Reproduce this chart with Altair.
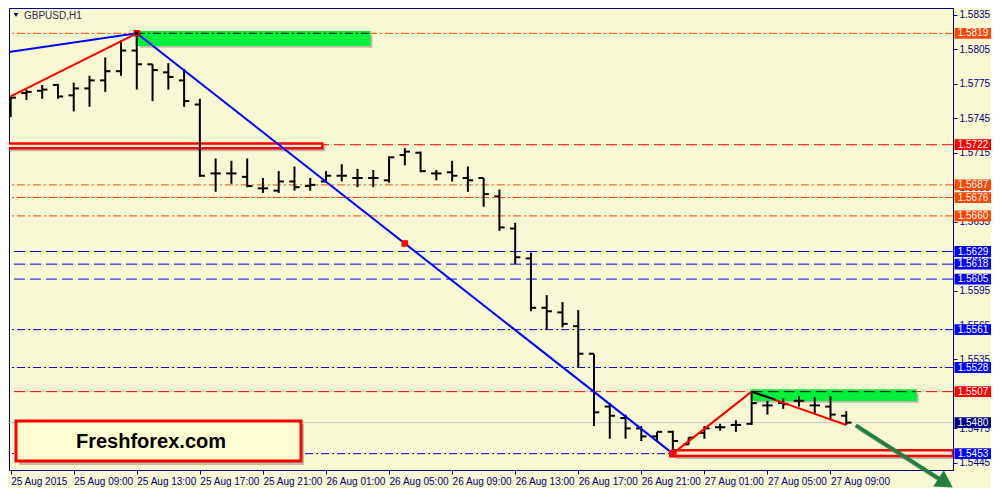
import altair as alt
import pandas as pd

# ---------------- data ----------------
title_text = "GBPUSD,H1"
watermark_text = "Freshforex.com"

bar_hours = list(range(54))  # hours since 25 Aug 2015 05:00
opens = [1.5750, 1.5767, 1.5769, 1.5774, 1.5765, 1.5771, 1.5778, 1.5786, 1.5804, 1.5792,
         1.5785, 1.5778, 1.5757, 1.5697, 1.5697, 1.5694, 1.5684, 1.5682, 1.5690, 1.5686,
         1.5690, 1.5695, 1.5693, 1.5693, 1.5691, 1.5713, 1.5715, 1.5697, 1.5698, 1.5693,
         1.5693, 1.5677, 1.5649, 1.5623, 1.5580, 1.5576, 1.5564, 1.5540, 1.5494, 1.5484,
         1.5475, 1.5468, 1.5472, 1.5461, 1.5471, 1.5476, 1.5478, 1.5479, 1.5495, 1.5497,
         1.5499, 1.5495, 1.5494, 1.5486]
highs = [1.5764, 1.5770, 1.5774, 1.5775, 1.5776, 1.5782, 1.5798, 1.5813, 1.5819, 1.5792,
         1.5793, 1.5788, 1.5762, 1.5710, 1.5708, 1.5710, 1.5693, 1.5699, 1.5703, 1.5693,
         1.5699, 1.5705, 1.5701, 1.5700, 1.5712, 1.5719, 1.5716, 1.5700, 1.5708, 1.5703,
         1.5693, 1.5683, 1.5654, 1.5628, 1.5591, 1.5585, 1.5578, 1.5540, 1.5497, 1.5487,
         1.5477, 1.5472, 1.5473, 1.5467, 1.5477, 1.5479, 1.5482, 1.5507, 1.5499, 1.5501,
         1.5503, 1.5502, 1.5503, 1.5490]
lows = [1.5746, 1.5761, 1.5762, 1.5762, 1.5751, 1.5755, 1.5768, 1.5782, 1.5770, 1.5760,
        1.5770, 1.5755, 1.5694, 1.5681, 1.5688, 1.5685, 1.5680, 1.5680, 1.5682, 1.5682,
        1.5689, 1.5690, 1.5685, 1.5685, 1.5689, 1.5704, 1.5698, 1.5691, 1.5690, 1.5681,
        1.5668, 1.5647, 1.5618, 1.5577, 1.5561, 1.5563, 1.5528, 1.5477, 1.5466, 1.5466,
        1.5464, 1.5463, 1.5453, 1.5461, 1.5466, 1.5473, 1.5472, 1.5478, 1.5487, 1.5492,
        1.5494, 1.5487, 1.5482, 1.5478]
closes = [1.5763, 1.5768, 1.5770, 1.5764, 1.5771, 1.5778, 1.5786, 1.5804, 1.5792, 1.5787,
          1.5781, 1.5760, 1.5695, 1.5697, 1.5697, 1.5686, 1.5684, 1.5690, 1.5685, 1.5687,
          1.5695, 1.5695, 1.5693, 1.5693, 1.5711, 1.5716, 1.5699, 1.5697, 1.5695, 1.5691,
          1.5679, 1.5650, 1.5624, 1.5580, 1.5577, 1.5566, 1.5540, 1.5489, 1.5486, 1.5475,
          1.5468, 1.5472, 1.5464, 1.5467, 1.5475, 1.5476, 1.5478, 1.5497, 1.5495, 1.5496,
          1.5499, 1.5495, 1.5487, 1.5480]

x_tick_hours = [0, 4, 8, 12, 16, 20, 24, 28, 32, 36, 40, 44, 48, 52]
x_tick_labels = ["25 Aug 2015", "25 Aug 09:00", "25 Aug 13:00", "25 Aug 17:00", "25 Aug 21:00",
                 "26 Aug 01:00", "26 Aug 05:00", "26 Aug 09:00", "26 Aug 13:00", "26 Aug 17:00",
                 "26 Aug 21:00", "27 Aug 01:00", "27 Aug 05:00", "27 Aug 09:00"]
y_tick_values = [1.5445, 1.5475, 1.5505, 1.5535, 1.5565, 1.5595, 1.5625, 1.5655,
                 1.5685, 1.5715, 1.5745, 1.5775, 1.5805, 1.5835]

level_prices = [1.5819, 1.5722, 1.5687, 1.5676, 1.5660, 1.5629, 1.5618, 1.5605,
                1.5561, 1.5528, 1.5507, 1.5480, 1.5453]
level_colors = ["#ff4500", "#ff0000", "#ff4500", "#ff4500", "#ff4500", "#0000ff", "#0000ff",
                "#0000ff", "#0000ff", "#0000ff", "#ff0000", "#c8c8c8", "#0000ff"]
level_styles = ["dashdot", "dashed", "dashdot", "dashdot", "dashdot", "dashed", "dashed",
                "dashed", "dashdot", "dashdot", "dashed", "solid", "dashdot"]
level_box_colors = ["#ff4500", "#ff0000", "#ff4500", "#ff4500", "#ff4500", "#0000ff", "#0000ff",
                    "#0000ff", "#0000ff", "#0000ff", "#ff0000", "#000080", "#0000ff"]

# trend lines (hour, price) -> (hour, price)
seg_h1 = [-0.23, -0.04, 8, 42, 47, 47]
seg_p1 = [1.58025, 1.57639, 1.5819, 1.5453, 1.5507, 1.5507]
seg_h2 = [8, 8, 42, 47, 53, 48.5]
seg_p2 = [1.5819, 1.5819, 1.5453, 1.5507, 1.5478, 1.5500]
seg_colors = ["#0000ff", "#ff0000", "#0000ff", "#ff0000", "#ff0000", "#000000"]

# zones
zone_h1 = [8, 47, -0.3, 42]
zone_h2 = [22.75, 57.4, 19.77, 59.77]
zone_p1 = [1.5820, 1.5508, 1.5723, 1.5456]
zone_p2 = [1.5809, 1.5500, 1.5719, 1.5451]
zone_fill = ["#00f03c", "#00f03c", "#f2eed2", "#f2eed2"]
zone_stroke = ["#00f03c", "#00f03c", "#ff0000", "#ff0000"]

over_h1 = [8, 47]
over_h2 = [22.75, 57.4]
over_p = [1.5819, 1.5507]
over_style = ["dashdot", "dashed"]

marker_h = [8, 42, 25]
marker_p = [1.5819, 1.5453, 1.5636]
marker_fill = ["#000000", "#ff0000", "#ff0000"]
marker_size = [25, 36, 25]

arrow_h1 = [53.6]
arrow_p1 = [1.54776]
arrow_h2 = [58.9]
arrow_p2 = [1.5431]
arrow_head_h = [59.3]
arrow_head_p = [1.54275]

# ---------------- layout ----------------
W, H = 944, 462
NAVY = "#000080"
BG = "#f8f8d2"
FONT = "Liberation Sans"
xs = alt.Scale(domain=[-0.106, 59.77], nice=False, zero=False)
ys = alt.Scale(domain=[1.543876, 1.584104], nice=False, zero=False)
dash_scale = alt.Scale(domain=["dashdot", "dashed", "solid"],
                       range=[[8, 3, 2, 3], [11, 5], [1, 0]])

parts = [f"datum.value == {h} ? '{l}'" for h, l in zip(x_tick_hours, x_tick_labels)]
label_expr = " : ".join(parts) + " : ''"

xaxis = alt.Axis(values=x_tick_hours, labelExpr=label_expr, labelAlign="left", labelFont=FONT,
                 labelFontSize=10, labelColor=NAVY, tickColor=NAVY, domainColor=NAVY, tickSize=4,
                 grid=False, title=None, labelPadding=2, labelFlush=False, labelOverlap=False)
yaxis = alt.Axis(orient="right", values=y_tick_values, format=".4f", labelFont=FONT,
                 labelFontSize=10, labelColor=NAVY, tickColor=NAVY, domainColor=NAVY, tickSize=4,
                 grid=False, title=None, labelPadding=2, labelOverlap=False)


def X(field):
    return alt.X(field, scale=xs, axis=xaxis)


def Y(field):
    return alt.Y(field, scale=ys, axis=yaxis)


# ---------------- layers ----------------
levels = pd.DataFrame({"p": level_prices, "col": level_colors, "style": level_styles,
                       "box": level_box_colors})
levels["top"] = levels["p"] + 0.00047
levels["bot"] = levels["p"] - 0.00047

level_lines = alt.Chart(levels).mark_rule(strokeWidth=1).encode(
    y=Y("p:Q"),
    color=alt.Color("col:N", scale=None),
    strokeDash=alt.StrokeDash("style:N", scale=dash_scale, legend=None),
)

zones = pd.DataFrame({"h1": zone_h1, "h2": zone_h2, "p1": zone_p1, "p2": zone_p2,
                      "fill": zone_fill, "stroke": zone_stroke})
zone_enc = dict(x=X("h1:Q"), x2="h2:Q", y=Y("p1:Q"), y2="p2:Q")
zone_shadow = alt.Chart(zones).mark_rect(color="#707070", opacity=0.45, xOffset=3, x2Offset=3,
                                         yOffset=3, y2Offset=3, clip=True).encode(**zone_enc)
zone_rects = alt.Chart(zones).mark_rect(strokeWidth=2.5, clip=True).encode(
    fill=alt.Fill("fill:N", scale=None), stroke=alt.Stroke("stroke:N", scale=None), **zone_enc)

overlay = pd.DataFrame({"h1": over_h1, "h2": over_h2, "p": over_p, "style": over_style})
overlay_lines = alt.Chart(overlay).mark_rule(color="#000000", strokeWidth=1).encode(
    x=X("h1:Q"), x2="h2:Q", y=Y("p:Q"),
    strokeDash=alt.StrokeDash("style:N", scale=dash_scale, legend=None))

ohlc = pd.DataFrame({"h": bar_hours, "o": opens, "hi": highs, "lo": lows, "c": closes})
hl = alt.Chart(ohlc).mark_rule(color="black", strokeWidth=2, clip=True).encode(
    x=X("h:Q"), y=Y("lo:Q"), y2="hi:Q")
op = alt.Chart(ohlc).transform_calculate(hx="datum.h - 0.33").mark_rule(
    color="black", strokeWidth=2, clip=True).encode(x=X("hx:Q"), x2="h:Q", y=Y("o:Q"))
cl = alt.Chart(ohlc).transform_calculate(hx="datum.h + 0.33").mark_rule(
    color="black", strokeWidth=2, clip=True).encode(x=X("h:Q"), x2="hx:Q", y=Y("c:Q"))

segs = pd.DataFrame({"h1": seg_h1, "p1": seg_p1, "h2": seg_h2, "p2": seg_p2, "col": seg_colors})
seg_lines = alt.Chart(segs).mark_rule(strokeWidth=2, clip=True).encode(
    x=X("h1:Q"), x2="h2:Q", y=Y("p1:Q"), y2="p2:Q",
    color=alt.Color("col:N", scale=None))

arrow = pd.DataFrame({"h1": arrow_h1, "p1": arrow_p1, "h2": arrow_h2, "p2": arrow_p2})
arrow_enc = dict(x=X("h1:Q"), x2="h2:Q", y=Y("p1:Q"), y2="p2:Q")
arrow_shadow = alt.Chart(arrow).mark_rule(color="#707070", opacity=0.4, strokeWidth=4,
                                          xOffset=3, x2Offset=3, yOffset=3, y2Offset=3).encode(**arrow_enc)
arrow_line = alt.Chart(arrow).mark_rule(color="#23803f", strokeWidth=4).encode(**arrow_enc)
head = pd.DataFrame({"h": arrow_head_h, "p": arrow_head_p})
arrow_head = alt.Chart(head).mark_point(shape="triangle-right", filled=True, size=380, angle=33,
                                        color="#23803f", opacity=1).encode(
    x=X("h:Q"), y=Y("p:Q"))

markers = pd.DataFrame({"h": marker_h, "p": marker_p, "fill": marker_fill, "s": marker_size})
marker_pts = alt.Chart(markers).mark_square(stroke="#ff0000", strokeWidth=1.5, opacity=1).encode(
    x=X("h:Q"), y=Y("p:Q"),
    fill=alt.Fill("fill:N", scale=None), size=alt.Size("s:Q", scale=None))

box_rects = alt.Chart(levels).mark_rect().encode(
    x=alt.value(W + 1.5), x2=alt.value(W + 38),
    y=Y("top:Q"), y2="bot:Q",
    fill=alt.Fill("box:N", scale=None))
box_text = alt.Chart(levels).mark_text(color="white", font=FONT, fontSize=10,
                                       align="center", baseline="middle").encode(
    x=alt.value(W + 20), y=Y("p:Q"),
    text=alt.Text("p:Q", format=".4f"))

wm = pd.DataFrame({"t": [watermark_text]})
wm_shadow = alt.Chart(wm).mark_rect(color="#707070", opacity=0.45).encode(
    x=alt.value(10), x2=alt.value(295), y=alt.value(416), y2=alt.value(457))
wm_box = alt.Chart(wm).mark_rect(fill="#fefed0", stroke="#ff0000", strokeWidth=3).encode(
    x=alt.value(7), x2=alt.value(292), y=alt.value(413), y2=alt.value(453))
wm_text = alt.Chart(wm).mark_text(font=FONT, fontSize=20, fontWeight="bold", color="black",
                                  align="center", baseline="middle").encode(
    x=alt.value(142), y=alt.value(434), text="t:N")

tt = pd.DataFrame({"t": [title_text]})
title_tri = alt.Chart(tt).mark_point(shape="triangle-down", filled=True, size=22,
                                     color=NAVY, opacity=1).encode(x=alt.value(7), y=alt.value(7))
title_txt = alt.Chart(tt).mark_text(font=FONT, fontSize=10, color="#2a2a5a", align="left",
                                    baseline="middle").encode(
    x=alt.value(15), y=alt.value(7.5), text="t:N")

chart = alt.layer(
    level_lines, zone_shadow, zone_rects, overlay_lines, hl, op, cl, seg_lines,
    arrow_shadow, arrow_line, arrow_head, marker_pts, box_rects, box_text,
    wm_shadow, wm_box, wm_text, title_tri, title_txt,
).properties(width=W, height=H, background=BG, padding=0).configure_view(
    stroke=NAVY, strokeWidth=1, fill=BG)

chart.save("out.html", embed_options={"renderer": "svg", "actions": False})
